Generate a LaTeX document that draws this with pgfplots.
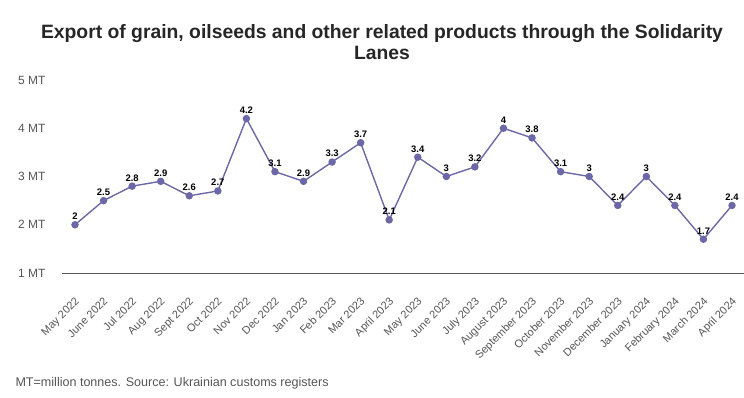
\documentclass[border=0pt]{standalone}
\usepackage{pgfplots}
\pgfplotsset{compat=1.18}
\usepackage{fontspec}
\setmainfont{Liberation Sans}
\definecolor{linec}{RGB}{108,104,168}
\definecolor{txtgray}{RGB}{85,85,85}
\begin{document}
\begin{tikzpicture}
\path[use as bounding box] (0,0) rectangle (744bp,398bp);
\node[align=center, font=\fontsize{19.4}{20.5}\selectfont\bfseries, text=black!85] at (382bp,356bp) {Export of grain, oilseeds and other related products through the Solidarity\\Lanes};
\begin{axis}[at={(62bp,125bp)}, anchor=south west, scale only axis, width=682bp, height=193bp,
 xmin=-0.455, xmax=23.42, ymin=1, ymax=5,
 xtick={0,...,23},
 xticklabels={May 2022,June 2022,Jul 2022,Aug 2022,Sept 2022,Oct 2022,Nov 2022,Dec 2022,Jan 2023,Feb 2023,Mar 2023,April 2023,May 2023,June 2023,July 2023,August 2023,September 2023,October 2023,November 2023,December 2023,January 2024,February 2024,March 2024,April 2024},
 ytick={1,2,3,4,5}, yticklabels={1 MT,2 MT,3 MT,4 MT,5 MT},
 axis x line*=bottom, axis y line*=left,
 x axis line style={-, draw=black!65, line width=1pt},
 y axis line style={draw=none},
 major tick length=0pt,
 xticklabel style={rotate=45, anchor=north east, font=\fontsize{11}{13}\selectfont, text=txtgray, inner sep=1pt, yshift=-15bp, xshift=-16bp},
 yticklabel style={font=\fontsize{12}{13}\selectfont, text=txtgray, xshift=-13bp},
 clip=false,
 nodes near coords,
 nodes near coords style={font=\fontsize{9.5}{10}\selectfont\bfseries, text=black, anchor=south, yshift=1bp},
 /pgf/number format/assume math mode=true,
]
\addplot[color=linec, line width=1.4pt, mark=*, mark size=3bp, mark options={fill=linec, draw=linec}] coordinates {
(0,2) (1,2.5) (2,2.8) (3,2.9) (4,2.6) (5,2.7) (6,4.2) (7,3.1) (8,2.9) (9,3.3) (10,3.7) (11,2.1)
(12,3.4) (13,3) (14,3.2) (15,4) (16,3.8) (17,3.1) (18,3) (19,2.4) (20,3) (21,2.4) (22,1.7) (23,2.4)};
\end{axis}
\node[anchor=west, font=\fontsize{12.6}{14}\selectfont, text=txtgray] at (12bp,15bp) {MT=million tonnes. Source: Ukrainian customs registers};
\end{tikzpicture}
\end{document}
